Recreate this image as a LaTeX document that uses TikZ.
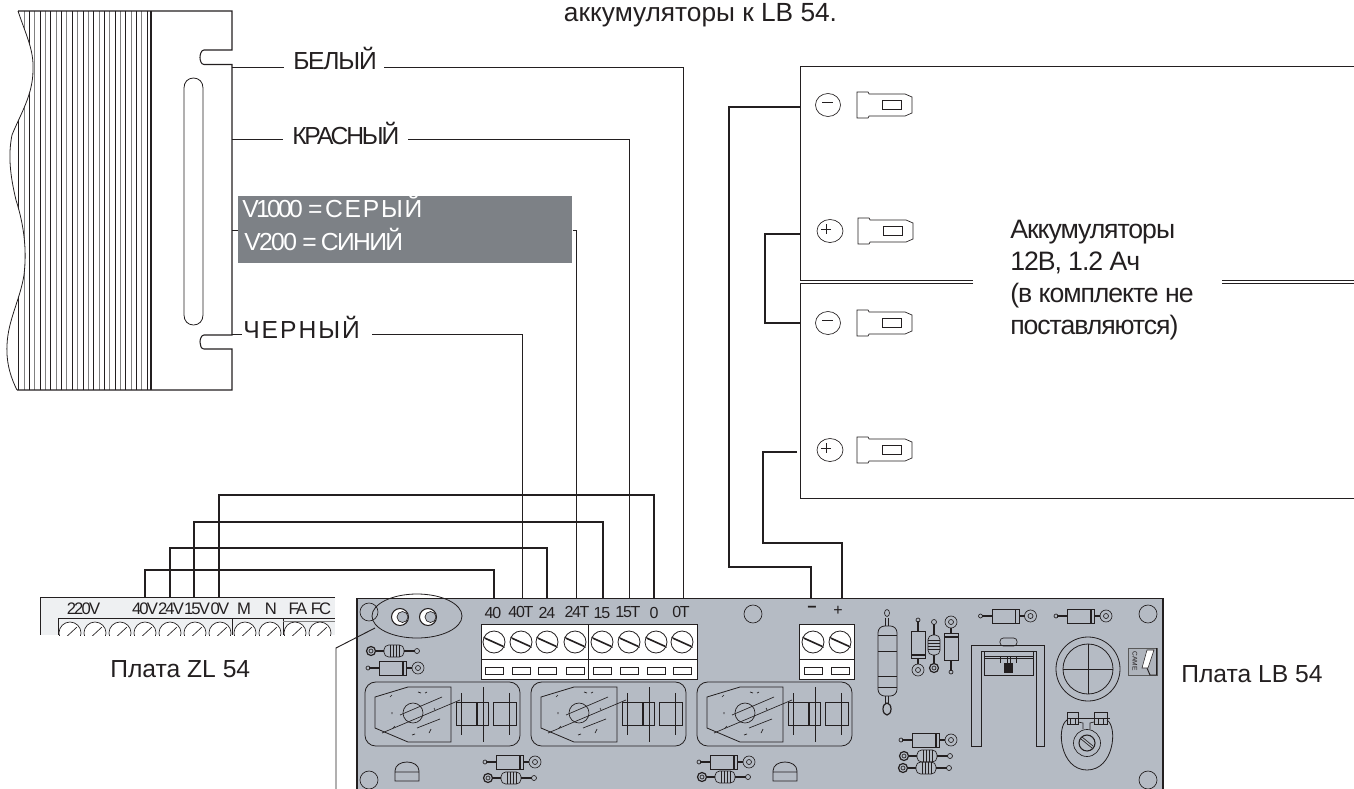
\documentclass[tikz,border=0pt]{standalone}
\usepackage{fontspec}
\setmainfont{Liberation Sans}
\definecolor{ink}{HTML}{231F20}
\definecolor{board}{HTML}{B5BBC4}
\definecolor{boxgray}{HTML}{7D8186}
\definecolor{zlgray}{HTML}{EEF0F2}
\tikzset{
  thin line/.style={draw=ink,line width=0.6pt},
  part/.style={draw=ink,line width=0.5pt},
  wirethin/.style={draw=ink,line width=0.7pt},
  wirethick/.style={draw=ink,line width=1.5pt},
  wirebatt/.style={draw=ink,line width=2pt},
  label/.style={inner sep=0pt,text=ink,font=\fontsize{18.5}{22}\selectfont},
  small label/.style={inner sep=0pt,text=ink,font=\fontsize{12}{14}\selectfont\addfontfeature{LetterSpace=-8}},
  zl label/.style={inner sep=0pt,text=ink,font=\fontsize{12.5}{14}\selectfont\addfontfeature{LetterSpace=-11}},
}
\newcommand{\myscrew}[2]{%
  \begin{scope}[shift={(#1,#2)}]
    \draw[part,line width=0.6pt,fill=white] (0,0) circle[radius=11];
    \draw[part] (-10.5,-5) -- (9.5,4) (-9.5,-3.5) -- (10.5,5.5);
  \end{scope}}
\newcommand{\myslot}[1]{\draw[part,fill=white] (#1-9,667) rectangle (#1+9,674);}
\newcommand{\mydiode}[3]{%
  \begin{scope}[shift={(#1,#2)},rotate=#3]
    \draw[part] (-13.5,-0.8) -- (-24,-0.8) (-13.5,0.8) -- (-24,0.8) (13.5,-0.8) -- (19,-0.8) (13.5,0.8) -- (19,0.8);
    \draw[part] (-13.5,-7) rectangle (13.5,7);
    \draw[part,line width=1pt] (10,-7) -- (10,7);
    \draw[part] (-25,0) circle[radius=2];
    \draw[part] (25,0) circle[radius=6];
    \draw[part] (25,0) circle[radius=2.5];
  \end{scope}}
\newcommand{\myres}[3]{%
  \begin{scope}[shift={(#1,#2)},rotate=#3]
    \draw[part] (-10,-0.8) -- (-19,-0.8) (-10,0.8) -- (-19,0.8) (10,-0.8) -- (21,-0.8) (10,0.8) -- (21,0.8);
    \draw[part,rounded corners=3.5pt] (-10,-6) rectangle (10,6);
    \draw[part] (-4,-6) -- (-4,6) (-1,-6) -- (-1,6) (2,-6) -- (2,6) (5,-6) -- (5,6);
    \draw[part,line width=0.9pt] (-23,0) circle[radius=4.5];
    \draw[part] (-23,0) circle[radius=2];
    \draw[part] (23,0) circle[radius=2.5];
  \end{scope}}
\newcommand{\myrelay}[1]{%
  \begin{scope}[shift={(#1,0)}]
    \draw[part,line width=0.6pt,rounded corners=8pt] (0,682) rectangle (155,746);
    \draw[part,line width=0.6pt] (10,697) -- (43,687) -- (86,687) -- (86,742) -- (43,742) -- (10,728) -- cycle;
    \draw[part] (17,733) -- (95,700) (35,715) -- (77,697) (52,728) -- (75,719);
    \draw[part] (48,713) circle[radius=10];
    \draw[part] (91,702) rectangle (123,725) (128,702) rectangle (151,725);
    \draw[part,line width=1pt] (112,702) -- (112,725);
    \draw[part] (96,693) -- (96,735) (118,687) -- (118,742) (144,693) -- (144,735);
    \draw[part] (27,695) -- (25,697) (53,692) -- (56,693) (27,712) -- (27,714) (28,728) -- (30,726) (47,735) -- (50,734) (66,729) -- (64,733) (70,710) -- (69,708) (62,692) -- (60,693);
  \end{scope}}
\newcommand{\mytab}[2]{%
  \begin{scope}[shift={(#1,#2)}]
    \draw[part] (0,-13) -- (11,-13) -- (12,-11) -- (48,-11) -- (55,-8) -- (55,8) -- (48,11) -- (12,11) -- (11,13) -- (0,13) -- cycle;
    \draw[part] (25,-4.5) rectangle (44,4.5);
  \end{scope}}
\newcommand{\mycap}[1]{%
  \draw[part,line width=0.6pt] (#1,781) -- (#1,771) .. controls (#1,765) and (#1+6,762) .. (#1+12,762) .. controls (#1+18,762) and (#1+24,765) .. (#1+24,771) -- (#1+24,781) -- cycle (#1,772) -- (#1+24,772);}
\begin{document}
\begin{tikzpicture}[x=0.75pt,y=-0.75pt]
\useasboundingbox (0,0) rectangle (1354,789);

% ---- transformer
\begin{scope}
  \clip (18,11) .. controls (26,35) and (34,50) .. (33,70) .. controls (33,95) and (20,115) .. (12,135)
     .. controls (8,155) and (10,175) .. (16,200) .. controls (24,225) and (27,250) .. (24,275)
     .. controls (20,300) and (8,320) .. (7,345) .. controls (6,365) and (12,380) .. (17,390) -- (151,390) -- (151,11) -- cycle;
  \foreach \i in {0,2,...,24} \draw[draw=ink,line width=0.6pt] ({18.7+5.35*\i},11) -- ({18.7+5.35*\i},390);
  \foreach \i in {1,3,...,25} \draw[draw=gray,line width=0.6pt] ({18.7+5.35*\i},11) -- ({18.7+5.35*\i},390);
\end{scope}
\draw[thin line] (18,11) .. controls (26,35) and (34,50) .. (33,70) .. controls (33,95) and (20,115) .. (12,135)
     .. controls (8,155) and (10,175) .. (16,200) .. controls (24,225) and (27,250) .. (24,275)
     .. controls (20,300) and (8,320) .. (7,345) .. controls (6,365) and (12,380) .. (17,390);
\draw[thin line,line width=0.8pt] (18,11) -- (232,11) -- (232,50) -- (204,50)
   .. controls (201,50) and (200,55) .. (200,57.5) .. controls (200,60) and (201,64.5) .. (204,64.5) -- (232,64.5)
   -- (232,335) -- (204,335) .. controls (201,335) and (200,340) .. (200,342) .. controls (200,345) and (201,349) .. (204,349)
   -- (232,349) -- (232,390) -- (17,390);
\draw[thin line,line width=0.8pt] (151,11) -- (151,390);
\draw[thin line] (184,88) .. controls (184,82) and (188,78) .. (193.5,78) .. controls (199,78) and (203,82) .. (203,88) -- (203,315)
   .. controls (203,321) and (199,325) .. (193.5,325) .. controls (188,325) and (184,321) .. (184,315) -- cycle;

% ---- gray box
\node[fill=boxgray,minimum width=250.5pt,minimum height=50.25pt,inner sep=0pt,anchor=north west] (graybox) at (238,196) {};
\node[anchor=base west,inner sep=0pt,text=white,font=\fontsize{18.5}{22}\selectfont] (lblgrey) at (242,217) {\addfontfeature{LetterSpace=-11}V1000\hspace{4pt}=\hspace{2pt}\addfontfeature{LetterSpace=7}СЕРЫЙ};
\node[anchor=base west,inner sep=0pt,text=white,font=\fontsize{18.5}{22}\selectfont\addfontfeature{LetterSpace=-6.5}] (lblblue) at (244,250) {V200\hspace{4pt}=\hspace{3pt}СИНИЙ};

% ---- labels
\node[label,anchor=base west,font=\fontsize{18.5}{22}\selectfont\addfontfeature{LetterSpace=-5}] (lblwhite) at (293,69) {БЕЛЫЙ};
\node[label,anchor=base west,font=\fontsize{18.5}{22}\selectfont\addfontfeature{LetterSpace=-9}] (lblred) at (292,144) {КРАСНЫЙ};
\node[label,anchor=base west,font=\fontsize{18.5}{22}\selectfont\addfontfeature{LetterSpace=8}] (lblblack) at (243,338) {ЧЕРНЫЙ};
\node[label,anchor=base,font=\fontsize{19.7}{24}\selectfont] (toptext) at (700.5,21) {аккумуляторы к LB 54.};
\node[label,anchor=north west,align=left,font=\fontsize{20}{24}\selectfont\addfontfeature{LetterSpace=-4}] (batttext) at (1010,220) {Аккумуляторы\\12В, 1.2 Ач\\(в комплекте не\\поставляются)};
\node[label,anchor=base west] (zltext) at (110,677) {Плата ZL 54};
\node[label,anchor=base west] (lbtext) at (1181,682) {Плата LB 54};

% ---- batteries
\draw[thin line] (1354,66) -- (800.5,66) -- (800.5,280) -- (973,280);
\draw[thin line] (1222,280) -- (1354,280);
\draw[thin line] (973,283) -- (800.5,283) -- (800.5,498) -- (1354,498);
\draw[thin line] (1222,283) -- (1354,283);
\draw[part] (828,105) circle[x radius=12.5,y radius=11.5]; \draw[part,line width=0.6pt] (822,102) -- (833,102);
\draw[part] (830,231) circle[x radius=13,y radius=11.5]; \draw[part,line width=0.6pt] (821,229) -- (831,229) (826,224) -- (826,234);
\draw[part] (828,323) circle[x radius=12.5,y radius=11.5]; \draw[part,line width=0.6pt] (822,320) -- (833,320);
\draw[part] (830,450) circle[x radius=13,y radius=11.5]; \draw[part,line width=0.6pt] (821,448) -- (831,448) (826,443) -- (826,453);
\mytab{857}{105}\mytab{858}{231}\mytab{857}{323}\mytab{857}{450}

% ---- ZL board
\begin{scope}
  \clip (39,596) rectangle (335,635);
  \fill[zlgray] (40,597) rectangle (335,635);
  \draw[thin line] (335,597) -- (40,597) -- (40,635);
  \draw[thin line] (58,635) -- (58,618) -- (283,618) -- (283,635);
  \draw[thin line] (232,618) -- (232,635);
  \draw[thin line] (283,618) -- (335,618);
  \draw[draw=gray,line width=0.5pt] (283,621) -- (335,621);
  \foreach \x in {70,95,120,145,170,195,220,245,270,295,320} {
    \draw[part,fill=white] (\x,633) circle[radius=11];
    \draw[part] (\x-7,640) -- (\x+7,627);
  }
\end{scope}
\node[zl label] (z220) at (83.5,609) {220V};
\node[zl label] (z40) at (145,609) {40V};
\node[zl label] (z24) at (171,609) {24V};
\node[zl label] (z15) at (197,609) {15V};
\node[zl label] (z0) at (220,609) {0V};
\node[zl label] (zM) at (244,609) {M};
\node[zl label] (zN) at (271,609) {N};
\node[zl label] (zFA) at (298,609) {FA};
\node[zl label] (zFC) at (321,609) {FC};

% ---- LB board
\fill[board] (357,598.5) rectangle (1163,789);
\draw[thin line,line width=0.8pt] (357,789) -- (357,598.5) -- (1163,598.5) -- (1163,789);
\foreach \p in {(369,612),(369,780),(753,614),(1148,614),(1148,780)} \draw[part] \p circle[radius=9];
% indicator ellipse
\draw[part,line width=0.6pt] (417,616) circle[x radius=45,y radius=22];
\foreach \x in {400,428} {
  \draw[part,line width=0.8pt,fill=white] (\x,617) circle[radius=8.5];
  \draw[part,fill=board] (\x+2.5,617) circle[radius=5.5];
}
% terminals
\fill[white] (481,624) rectangle (697,679);
\draw[thin line] (481,624) rectangle (588,679) (588,624) rectangle (697,679) (481,659.5) -- (697,659.5);
\foreach \x in {494,521,547,575,602,629,656,682} { \myscrew{\x}{642} \myslot{\x} }
\fill[white] (799,624) rectangle (854,679);
\draw[thin line] (799,624) rectangle (854,679) (799,659.5) -- (854,659.5);
\foreach \x in {813,840} { \myscrew{\x}{642} \myslot{\x} }
\node[small label] (n40) at (493,613) {40};
\node[small label] (n40T) at (521,612) {40T};
\node[small label] (n24) at (547,613) {24};
\node[small label] (n24T) at (577,612) {24T};
\node[small label] (n15) at (602,613) {15};
\node[small label] (n15T) at (628,612) {15T};
\node[small label] (n0) at (654,613) {0};
\node[small label] (n0T) at (681,612) {0T};
\node[small label,font=\bfseries\fontsize{12}{14}\selectfont] (nminus) at (812,609.5) {−};
\node[small label,font=\fontsize{12}{14}\selectfont] (nplus) at (838,611) {+};
% relays
\myrelay{365}\myrelay{531}\myrelay{697}
% small parts
\mydiode{393}{668}{0}
\myres{394}{651}{0}
\mydiode{510}{762}{0}
\myres{511}{778}{0}
\mydiode{724}{762}{0}
\myres{725}{777}{0}
\mydiode{926}{740}{0}
\myres{927}{756}{0}
\myres{926}{768}{0}
\mydiode{918}{645}{-90}
\myres{934}{645}{90}
\mydiode{951}{647}{90}
\mydiode{1005.5}{616}{0}
\mydiode{1081}{616}{0}
% large resistor
\draw[part] (885.5,618) -- (885.5,626) (888.5,618) -- (888.5,626) (885.5,696) -- (885.5,704) (888.5,696) -- (888.5,704);
\draw[part,line width=0.6pt,rounded corners=5pt] (878,626) rectangle (897,696);
\draw[part] (878,635) -- (897,635) (878,651) -- (897,651) (878,676) -- (897,676) (878,687) -- (897,687);
\draw[part] (887,613) circle[x radius=2.5,y radius=3.5];
\draw[part,line width=0.9pt] (887,709) circle[x radius=4,y radius=6];
% caps
\mycap{395}\mycap{773}
% bracket
\draw[part,line width=0.6pt] (971,746) -- (971,645) -- (1044,645) -- (1044,746) -- (1036,746) -- (1036,651) -- (981,651) -- (981,746) -- cycle;
\draw[part] (984,651) rectangle (1033,675) (984,656) -- (1033,656) (984,658) -- (1033,658);
\draw[part,rounded corners=2.5pt] (1000,638) rectangle (1017,646);
\draw[part] (1000,663) -- (1000,656) -- (1007,656) -- (1007,663) (1010,663) -- (1010,656) -- (1016,656) -- (1016,663);
\fill[ink] (1004,663) rectangle (1013,673);
% big circle
\draw[part,line width=0.6pt] (1088,669) circle[radius=32] (1088,669) circle[radius=25];
\draw[part] (1063,669) -- (1113,669) (1088,644) -- (1088,694);
% trimmer
\draw[part,line width=0.6pt] (1067,720) .. controls (1056,727) and (1060,770) .. (1087,770) .. controls (1114,770) and (1118,727) .. (1107,720);
\draw[part] (1067,718) -- (1110,718);
\draw[part] (1067,712) rectangle (1078,724) (1070,718) rectangle (1075,724);
\draw[part] (1094,712) rectangle (1107,724) (1098,718) rectangle (1103,724);
\draw[part] (1078,722) -- (1083,723) -- (1083,729) (1094,722) -- (1090,723) -- (1090,729);
\draw[part] (1087,743) circle[radius=13.5];
\draw[part,line width=0.8pt] (1087,743) circle[radius=8];
\draw[part] (1081,739) -- (1092,748) (1082,737) -- (1093,746);
% logo
\draw[part,draw=gray!70!black,fill=board!88!gray] (1128,648) rectangle (1157,675);
\draw[draw=ink,line width=0.7pt] (1156.5,648) -- (1156.5,675) -- (1150,675) -- (1147,668);
\fill[white,draw=ink,line width=0.4pt] (1147,650) -- (1154,650) -- (1148,668) -- (1142,668) -- cycle;
\node[inner sep=0pt,rotate=-90,text=ink,font=\fontsize{5}{6}\selectfont] (logo) at (1135,661) {CAME};

% ---- named wire ends
\coordinate (t40) at (494,598); \coordinate (t40T) at (522,598);
\coordinate (t24) at (547,598); \coordinate (t24T) at (576,598);
\coordinate (t15) at (603,598); \coordinate (t15T) at (629,598);
\coordinate (t0) at (654,598); \coordinate (t0T) at (683,598);
\coordinate (tm) at (811,598); \coordinate (tp) at (842,598);
\coordinate (zb40) at (145,597); \coordinate (zb24) at (170,597);
\coordinate (zb15) at (194,597); \coordinate (zb0) at (219,597);
\coordinate (e1) at (232,67); \coordinate (e2) at (232,139); \coordinate (e3) at (232,230); \coordinate (e4) at (232,334);
\coordinate (b1n) at (800,107); \coordinate (b1p) at (800,234); \coordinate (b2n) at (800,323); \coordinate (b2p) at (797,452);
% ---- transformer leaders and wires
\draw[wirethin] (e1) -- (284,67);
\draw[wirethin] (384,67) -| (t0T);
\draw[wirethin] (e2) -- (283,139);
\draw[wirethin] (408,139) -| (t15T);
\draw[wirethin] (e3) -- (238,230);
\draw[wirethin] (graybox.east |- e3) -- (t24T |- e3) -- (t24T);
\draw[wirethin] (e4) -- (242,334);
\draw[wirethin] (372,334) -| (t40T);
% ---- board-to-board wires
\draw[wirethick] (zb40) -- (145,570) -| (t40);
\draw[wirethick] (zb24) -- (170,548) -| (t24);
\draw[wirethick] (zb15) -- (194,522) -| (t15);
\draw[wirethick] (zb0) -- (219,495) -| (t0);
% ---- battery wires
\draw[wirebatt] (b1n) -- (729,107) -- (729,567) -| (tm);
\draw[wirebatt] (b2p) -- (763,452) -- (763,543) -| (tp);
\draw[wirebatt] (b1p) -- (765,234) -- (765,323) -- (b2n);
% ---- pointer
\coordinate (ptr) at (375,628);
\draw[part,line width=0.7pt] (ptr) -- (336,648) -- (336,789);
\end{tikzpicture}
\end{document}
